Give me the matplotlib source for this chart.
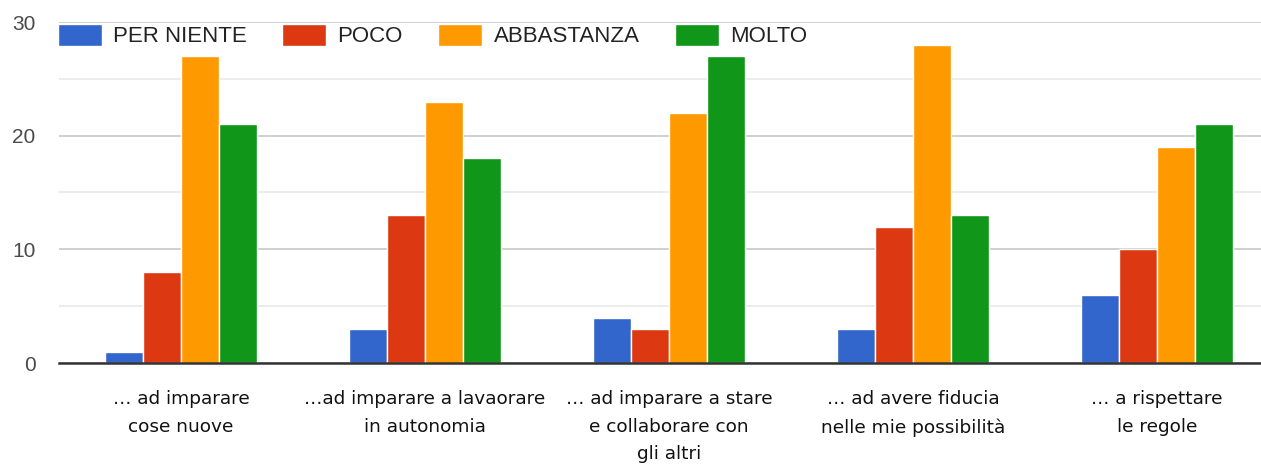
import matplotlib
matplotlib.use("Agg")
import matplotlib.pyplot as plt
import numpy as np

categories = ["… ad imparare\ncose nuove",
              "…ad imparare a lavaorare\nin autonomia",
              "… ad imparare a stare\ne collaborare con\ngli altri",
              "… ad avere fiducia\nnelle mie possibilità",
              "… a rispettare\nle regole"]
series_names = ["PER NIENTE", "POCO", "ABBASTANZA", "MOLTO"]
per_niente = [1, 3, 4, 3, 6]
poco = [8, 13, 3, 12, 10]
abbastanza = [27, 23, 22, 28, 19]
molto = [21, 18, 27, 13, 21]
y_ticks = [0, 10, 20, 30]

colors = ["#3366cc", "#dc3912", "#ff9900", "#109618"]
W, H = 1261, 465
fig = plt.figure(figsize=(W / 100, H / 100), dpi=100)
ax = fig.add_axes([59 / W, 102 / H, (1279 - 59) / W, (363 - 22) / H])

x = np.arange(len(categories))
bw = 0.156
all_series = [per_niente, poco, abbastanza, molto]
for i, (vals, name, c) in enumerate(zip(all_series, series_names, colors)):
    ax.bar(x + (i - 1.5) * bw, vals, bw, color=c, edgecolor="white", linewidth=1.0,
           label=name, zorder=3)

ax.set_xlim(-0.5, 4.5)
ax.set_ylim(0, 30)
ax.set_yticks(y_ticks)
ax.set_yticks([5, 15, 25], minor=True)
ax.grid(axis="y", which="major", color="#cccccc", linewidth=1.3, zorder=0)
ax.grid(axis="y", which="minor", color="#ebebeb", linewidth=1.3, zorder=0)
ax.tick_params(axis="y", which="both", length=0, pad=17, labelsize=15, labelcolor="#4a4a4a")
ax.tick_params(axis="x", length=0, pad=19.5)
for lab in ax.get_yticklabels():
    lab.set_family("Liberation Sans")
ax.set_xticks(x)
ax.set_xticklabels(categories, fontsize=13.3, family="DejaVu Sans", color="#111111",
                   linespacing=1.69)
for s in ["top", "right", "left"]:
    ax.spines[s].set_visible(False)
ax.spines["bottom"].set_color("#333333")
ax.spines["bottom"].set_linewidth(1.8)
ax.spines["bottom"].set_zorder(4)

leg = fig.legend(loc="upper left", bbox_to_anchor=(42 / W, 1 - 8 / H), ncol=4,
                 frameon=False, prop={"family": "Liberation Sans", "size": 16},
                 handlelength=2.0, handleheight=1.2, handletextpad=0.5,
                 columnspacing=1.58, borderpad=0.2)
for t in leg.get_texts():
    t.set_color("#222222")

fig.savefig("out.png", dpi=100)
